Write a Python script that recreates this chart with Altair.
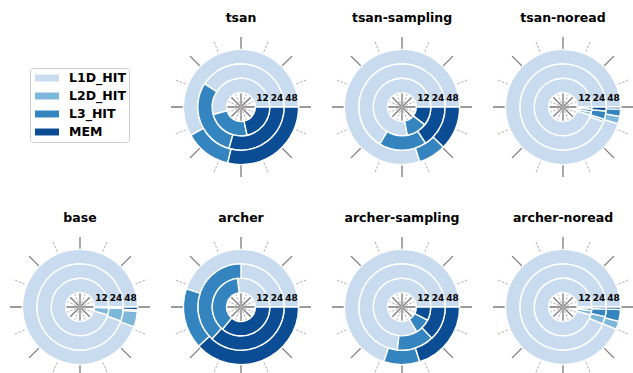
import math

import altair as alt
import pandas as pd

# ---- data -----------------------------------------------------------------
configs = ["tsan", "tsan-sampling", "tsan-noread",
           "base", "archer", "archer-sampling", "archer-noread"]
thread_counts = ["12", "24", "48"]
levels = ["L1D_HIT", "L2D_HIT", "L3_HIT", "MEM"]
level_colors = ["#c9dcef", "#7db7da", "#3484bf", "#0b4d94"]

# share of memory accesses (%) served by each level, per thread count (12, 24, 48)
l1d_hit = {
    "tsan": [54.2, 41.0, 58.2],
    "tsan-sampling": [78.0, 66.4, 80.0],
    "tsan-noread": [95.5, 94.5, 95.3],
    "base": [95.6, 94.8, 94.4],
    "archer": [27.0, 25.0, 44.9],
    "archer-sampling": [83.6, 73.3, 69.9],
    "archer-noread": [95.5, 93.6, 93.7],
}
l2d_hit = {
    "tsan": [0.0, 0.0, 0.0],
    "tsan-sampling": [0.0, 0.0, 0.0],
    "tsan-noread": [1.8, 1.0, 2.1],
    "base": [4.0, 4.8, 4.4],
    "archer": [0.0, 0.0, 0.0],
    "archer-sampling": [0.0, 0.0, 0.0],
    "archer-noread": [2.5, 2.8, 2.3],
}
l3_hit = {
    "tsan": [24.2, 29.5, 13.1],
    "tsan-sampling": [11.5, 17.8, 7.8],
    "tsan-noread": [1.6, 3.0, 2.0],
    "base": [0.2, 0.2, 0.4],
    "archer": [37.0, 38.3, 17.0],
    "archer-sampling": [8.9, 13.9, 10.1],
    "archer-noread": [1.5, 2.8, 3.3],
}
mem = {
    "tsan": [21.6, 29.5, 28.7],
    "tsan-sampling": [10.5, 15.8, 12.2],
    "tsan-noread": [1.1, 1.5, 0.6],
    "base": [0.2, 0.2, 0.8],
    "archer": [36.0, 36.7, 38.1],
    "archer-sampling": [7.5, 12.8, 20.0],
    "archer-noread": [0.5, 0.8, 0.7],
}
series = [l1d_hit, l2d_hit, l3_hit, mem]

# ---- tidy tables ----------------------------------------------------------
rows = []
for cfg in configs:
    for ring, tc in enumerate(thread_counts):
        start = 0.0
        for lvl, values in zip(levels, series):
            v = values[cfg][ring]
            if v > 0:
                rows.append({"config": cfg, "threads": tc, "level": lvl,
                             "pct": v, "start": start, "end": start + v,
                             "r_in": ring + 1, "r_out": ring + 2})
            start += v
shares = pd.DataFrame(rows)

ring_labels = pd.DataFrame({
    "threads": thread_counts,
    "pos": [0.0] * len(thread_counts),
    "r_mid": [i + 1.5 for i in range(len(thread_counts))],
})

# 16 polar grid directions: solid every 45 degrees, dashed in between
spokes = pd.DataFrame({"k": list(range(16)), "x0": [0.0] * 16, "y0": [0.0] * 16})

# ---- scales ---------------------------------------------------------------
PANEL = 140          # panel size in px
UNIT = 14.4          # px per radial unit
half = PANEL / 2 / UNIT

theta_scale = alt.Scale(type="linear", domain=[0, 100],
                        range=[math.pi / 2, math.pi / 2 - 2 * math.pi])
radius_scale = alt.Scale(type="linear", domain=[0, 5], range=[0, 5 * UNIT], zero=True)
x_scale = alt.Scale(domain=[-half, half], nice=False, zero=False)
y_scale = alt.Scale(domain=[-half, half], nice=False, zero=False)

color_enc = alt.Color(
    "level:N",
    scale=alt.Scale(domain=levels, range=level_colors),
    sort=levels,
    legend=alt.Legend(
        title=None, orient="none", legendX=20, legendY=31,
        symbolType="M-1,-0.29L1,-0.29L1,0.29L-1,0.29Z", symbolSize=576,
        symbolStrokeWidth=0, symbolOpacity=1, symbolOffset=2,
        clipHeight=14, rowPadding=4,
        labelFont="DejaVu Sans", labelFontWeight="bold", labelFontSize=12.5,
        labelColor="black", labelOffset=10,
        padding=3, strokeColor="#cccccc", cornerRadius=3, fillColor="white",
    ),
)


def spoke_layer(major):
    base = alt.Chart(spokes).transform_filter(
        f"datum.k % 2 {'==' if major else '!='} 0"
    ).transform_calculate(
        x1="5 * cos(datum.k * PI / 8)",
        y1="5 * sin(datum.k * PI / 8)",
    )
    if major:
        mark = base.mark_rule(color="#7a7a7a", strokeWidth=1.3, clip=True)
    else:
        mark = base.mark_rule(color="#b0b0b0", strokeWidth=1.0,
                              strokeDash=[2.5, 1.5], clip=True)
    return mark.encode(
        x=alt.X("x0:Q", scale=x_scale, axis=None),
        x2="x1:Q",
        y=alt.Y("y0:Q", scale=y_scale, axis=None),
        y2="y1:Q",
    )


def donut(cfg):
    arcs = alt.Chart(shares).transform_filter(
        alt.datum.config == cfg
    ).mark_arc(stroke="white", strokeWidth=1.4).encode(
        theta=alt.Theta("start:Q", scale=theta_scale, stack=None),
        theta2="end:Q",
        radius=alt.Radius("r_out:Q", scale=radius_scale),
        radius2="r_in:Q",
        color=color_enc,
        order=alt.Order("start:Q"),
    )
    labels = alt.Chart(ring_labels).mark_text(
        font="DejaVu Sans", fontWeight="bold", fontSize=9,
        color="black", align="center", baseline="alphabetic", dy=-6,
    ).encode(
        theta=alt.Theta("pos:Q", scale=theta_scale, stack=None),
        radius=alt.Radius("r_mid:Q", scale=radius_scale),
        text="threads:N",
    )
    return alt.layer(spoke_layer(True), spoke_layer(False), arcs, labels).properties(
        width=PANEL, height=PANEL, title=cfg
    )


placeholder = alt.Chart(spokes).mark_point(opacity=0).encode(
    x=alt.X("x0:Q", scale=x_scale, axis=None),
    y=alt.Y("y0:Q", scale=y_scale, axis=None),
).properties(width=PANEL, height=PANEL)

top = alt.hconcat(placeholder, *[donut(c) for c in configs[:3]], spacing=21)
bottom = alt.hconcat(*[donut(c) for c in configs[3:]], spacing=21)

chart = alt.vconcat(top, bottom, spacing=34).properties(
    padding={"left": 10, "top": 11, "right": 0, "bottom": 0},
    background="white",
).configure_view(stroke=None).configure_title(
    font="DejaVu Sans", fontSize=12.5, fontWeight="bold", color="black",
    offset=13, anchor="middle",
)

chart.save("out.html", embed_options={"renderer": "svg", "actions": False})
